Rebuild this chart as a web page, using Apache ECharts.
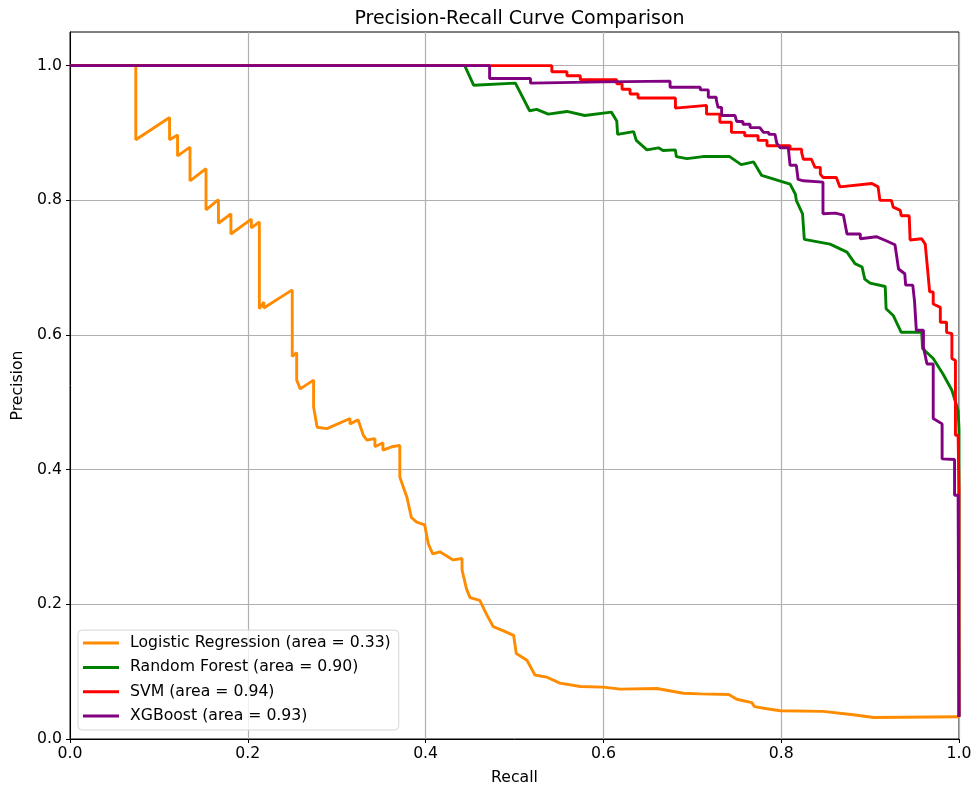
<!DOCTYPE html>
<html>
<head>
<meta charset="utf-8">
<script src="https://cdn.jsdelivr.net/npm/echarts@6/dist/echarts.min.js"></script>
<style>
html,body{margin:0;padding:0;background:#fff;}
#chart{width:972px;height:790px;}
</style>
</head>
<body>
<div id="chart"></div>
<script>
const seriesNames = ['Logistic Regression (area = 0.33)','Random Forest (area = 0.90)','SVM (area = 0.94)','XGBoost (area = 0.93)'];
const seriesColors = ['#ff8c00','#008000','#ff0000','#800080'];
const tickValues = [0,0.2,0.4,0.6,0.8,1.0];

const lrRecall = [0,0.074,0.074,0.112,0.112,0.121,0.121,0.135,0.135,0.153,0.153,0.167,0.167,0.181,0.181,0.204,0.204,0.213,0.213,0.218,0.218,0.250,0.250,0.255,0.255,0.259,0.274,0.274,0.278,0.289,0.315,0.315,0.324,0.330,0.334,0.343,0.343,0.352,0.352,0.362,0.371,0.371,0.375,0.379,0.384,0.390,0.399,0.403,0.408,0.416,0.431,0.441,0.441,0.446,0.450,0.461,0.469,0.476,0.487,0.499,0.502,0.514,0.523,0.536,0.551,0.574,0.600,0.619,0.660,0.690,0.709,0.741,0.750,0.767,0.770,0.784,0.799,0.847,0.881,0.904,1.0];
const lrPrecision = [1.0,1.0,0.890,0.923,0.890,0.897,0.866,0.879,0.829,0.847,0.786,0.801,0.766,0.780,0.750,0.772,0.759,0.768,0.639,0.649,0.640,0.667,0.568,0.574,0.533,0.520,0.533,0.493,0.463,0.461,0.476,0.468,0.474,0.451,0.444,0.446,0.434,0.440,0.429,0.434,0.436,0.389,0.374,0.359,0.329,0.322,0.318,0.290,0.275,0.278,0.266,0.268,0.251,0.223,0.210,0.206,0.184,0.167,0.161,0.154,0.127,0.117,0.095,0.092,0.083,0.078,0.077,0.074,0.075,0.068,0.067,0.066,0.059,0.054,0.048,0.045,0.042,0.041,0.036,0.032,0.033];

const rfRecall = [0,0.444,0.454,0.501,0.517,0.525,0.538,0.559,0.579,0.609,0.615,0.616,0.634,0.637,0.649,0.662,0.667,0.681,0.682,0.694,0.712,0.742,0.755,0.769,0.778,0.810,0.816,0.817,0.824,0.826,0.855,0.874,0.883,0.891,0.894,0.900,0.917,0.918,0.926,0.935,0.958,0.959,0.971,0.982,0.992,0.999,1.0,1.0];
const rfPrecision = [1.0,1.0,0.971,0.974,0.933,0.935,0.928,0.932,0.926,0.931,0.918,0.898,0.902,0.889,0.875,0.878,0.874,0.875,0.865,0.862,0.865,0.865,0.853,0.857,0.837,0.824,0.809,0.800,0.780,0.742,0.735,0.723,0.706,0.701,0.683,0.677,0.672,0.639,0.629,0.604,0.604,0.580,0.565,0.542,0.518,0.488,0.46,0.033];

const svmRecall = [0,0.542,0.542,0.559,0.559,0.574,0.574,0.615,0.615,0.621,0.621,0.630,0.630,0.639,0.639,0.681,0.681,0.716,0.716,0.731,0.731,0.744,0.744,0.759,0.759,0.774,0.774,0.784,0.784,0.799,0.810,0.810,0.823,0.823,0.825,0.834,0.834,0.838,0.844,0.844,0.847,0.862,0.866,0.902,0.909,0.911,0.924,0.926,0.934,0.935,0.944,0.945,0.958,0.962,0.964,0.967,0.971,0.971,0.979,0.979,0.986,0.986,0.992,0.992,0.996,0.996,0.999,1.0,1.0];
const svmPrecision = [1.0,1.0,0.991,0.991,0.985,0.985,0.979,0.979,0.973,0.973,0.965,0.965,0.958,0.958,0.952,0.952,0.937,0.941,0.928,0.928,0.916,0.916,0.901,0.901,0.896,0.896,0.889,0.889,0.881,0.881,0.881,0.876,0.876,0.871,0.861,0.861,0.859,0.849,0.849,0.839,0.834,0.834,0.820,0.825,0.820,0.800,0.800,0.790,0.785,0.777,0.777,0.741,0.743,0.735,0.707,0.664,0.664,0.646,0.641,0.619,0.619,0.604,0.602,0.565,0.562,0.451,0.451,0.37,0.033];

const xgbRecall = [0,0.472,0.472,0.518,0.518,0.600,0.675,0.675,0.709,0.709,0.718,0.718,0.727,0.727,0.729,0.729,0.733,0.733,0.748,0.750,0.757,0.757,0.765,0.765,0.776,0.780,0.786,0.786,0.793,0.795,0.799,0.808,0.810,0.817,0.819,0.825,0.847,0.847,0.861,0.870,0.874,0.889,0.889,0.907,0.918,0.928,0.932,0.939,0.940,0.948,0.950,0.952,0.952,0.960,0.960,0.964,0.971,0.971,0.981,0.981,0.995,0.995,0.999,1.0];
const xgbPrecision = [1.0,1.0,0.981,0.981,0.974,0.976,0.977,0.968,0.968,0.964,0.964,0.953,0.953,0.949,0.949,0.938,0.938,0.926,0.926,0.917,0.917,0.913,0.913,0.908,0.908,0.901,0.901,0.898,0.898,0.885,0.878,0.878,0.852,0.852,0.831,0.829,0.827,0.780,0.781,0.778,0.750,0.750,0.743,0.746,0.740,0.734,0.698,0.691,0.674,0.674,0.650,0.649,0.607,0.607,0.582,0.557,0.557,0.476,0.468,0.416,0.415,0.362,0.362,0.033];

const allRecall = [lrRecall, rfRecall, svmRecall, xgbRecall];
const allPrecision = [lrPrecision, rfPrecision, svmPrecision, xgbPrecision];

function zip(a, b){ return a.map((v,i)=>[v, b[i]]); }

const FONT = 'DejaVu Sans';
const FS = 15.7;
const chart = echarts.init(document.getElementById('chart'), null, {renderer:'canvas'});
const option = {
  animation: false,
  backgroundColor: '#fff',
  textStyle: {fontFamily: FONT},
  title: {
    text: 'Precision-Recall Curve Comparison',
    left: 514.5, top: 5, textAlign: 'center',
    textStyle: {fontFamily: FONT, fontSize: 19, fontWeight: 'normal', color: '#000'}
  },
  grid: {left: 70, right: 13, top: 32, bottom: 51, show: true, borderColor: '#000', borderWidth: 1, backgroundColor: 'transparent', containLabel: false, outerBoundsMode: 'none'},
  legend: {
    orient: 'vertical', left: 78, bottom: 60,
    data: seriesNames,
    icon: 'rect', itemWidth: 36, itemHeight: 3, itemGap: 8.3,
    padding: [5, 8, 6, 5],
    backgroundColor: 'rgba(255,255,255,0.8)', borderColor: '#d5d5d5', borderWidth: 1, borderRadius: 4,
    textStyle: {fontFamily: FONT, fontSize: FS, color: '#000', padding: [0,0,0,6]}
  },
  xAxis: {
    type: 'value', min: 0, max: 1, interval: 0.2,
    name: 'Recall', nameLocation: 'middle', nameGap: 31,
    nameTextStyle: {fontFamily: FONT, fontSize: FS, color: '#000'},
    axisLine: {show: true, lineStyle: {color: '#000', width: 1}},
    axisTick: {show: true, length: 4, lineStyle: {color: '#000'}},
    axisLabel: {fontFamily: FONT, fontSize: FS, color: '#000', margin: 7, formatter: v => v.toFixed(1)},
    splitLine: {show: true, lineStyle: {color: '#b0b0b0', width: 1.2}}
  },
  yAxis: {
    type: 'value', min: 0, max: 1.05, interval: 0.2,
    name: 'Precision', nameLocation: 'middle', nameGap: 44,
    nameTextStyle: {fontFamily: FONT, fontSize: FS, color: '#000'},
    axisLine: {show: true, lineStyle: {color: '#000', width: 1}},
    axisTick: {show: true, length: 4, lineStyle: {color: '#000'}, customValues: tickValues},
    axisLabel: {fontFamily: FONT, fontSize: FS, color: '#000', margin: 8, customValues: tickValues, formatter: v => v.toFixed(1)},
    splitLine: {show: true, lineStyle: {color: '#b0b0b0', width: 1.2}}
  },
  series: seriesNames.map((name, i) => ({
    name: name,
    type: 'line',
    data: zip(allRecall[i], allPrecision[i]),
    showSymbol: false,
    symbol: 'none',
    color: seriesColors[i],
    lineStyle: {color: seriesColors[i], width: 2.9},
    z: 2 + i
  }))
};
chart.setOption(option);
</script>
</body>
</html>
